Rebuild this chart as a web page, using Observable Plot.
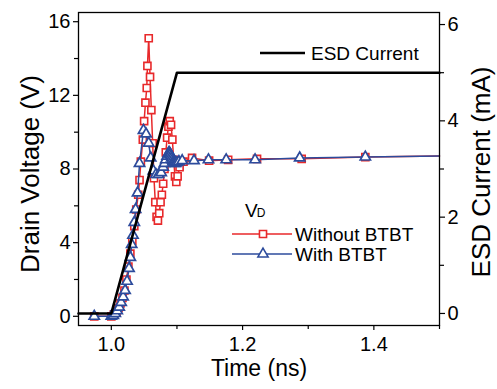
<!DOCTYPE html>
<html><head><meta charset="utf-8">
<script src="https://cdn.jsdelivr.net/npm/d3@7"></script>
<script src="https://cdn.jsdelivr.net/npm/@observablehq/plot@0.6"></script>
<style>
body{margin:0;background:#fff;}
#wrap{position:relative;width:497px;height:389px;font-family:"Liberation Sans",Arial,sans-serif;}
#legend{position:absolute;left:0;top:0;pointer-events:none;}
</style></head><body><div id="wrap"></div>
<script>
// ---- data ----
const redTime = [0.974,1.000,1.004,1.008,1.011,1.014,1.017,1.020,1.023,1.026,1.029,1.032,1.035,1.038,1.041,1.043,1.045,1.048,1.050,1.052,1.054,1.055,1.057,1.059,1.061,1.063,1.065,1.067,1.069,1.071,1.073,1.075,1.077,1.079,1.081,1.083,1.085,1.087,1.089,1.091,1.093,1.095,1.097,1.099,1.101,1.104,1.110,1.123,1.149,1.178,1.222,1.290,1.387,1.500];
const redV    = [0,0,0.1,0.25,0.45,0.7,1.0,1.4,2.0,2.7,3.4,4.1,4.9,5.8,6.6,7.4,8.4,9.6,10.6,11.6,12.4,13.6,15.1,13.0,11.2,9.4,7.5,6.2,5.4,5.2,5.6,6.2,6.6,7.2,8.0,8.9,9.7,10.3,10.6,10.4,9.6,8.5,7.6,7.3,7.6,8.1,8.4,8.6,8.45,8.5,8.55,8.55,8.65,8.7];
const blueTime = [0.974,1.000,1.003,1.006,1.009,1.012,1.015,1.018,1.021,1.024,1.027,1.029,1.031,1.033,1.035,1.037,1.040,1.043,1.049,1.053,1.057,1.060,1.064,1.068,1.072,1.076,1.079,1.081,1.083,1.085,1.087,1.088,1.089,1.090,1.091,1.092,1.093,1.094,1.095,1.096,1.098,1.100,1.103,1.108,1.126,1.148,1.175,1.219,1.287,1.387,1.500];
const blueV    = [0,0,0.05,0.15,0.3,0.5,0.75,1.05,1.4,1.9,2.6,3.2,3.9,4.4,5.1,5.8,6.7,8.3,10.1,9.9,9.4,8.6,7.9,7.7,7.7,7.8,8.1,8.3,8.5,8.7,8.85,8.9,8.85,8.8,8.7,8.6,8.5,8.4,8.35,8.3,8.3,8.35,8.4,8.45,8.45,8.5,8.5,8.5,8.6,8.65,8.7];
const esdTime    = [0.95, 1.0, 1.1, 1.5];
const esdCurrent = [0, 0, 5, 5];
const xMajor = [1.0, 1.2, 1.4];
const xMinor = [1.1, 1.3, 1.5];
const yLeftMajor = [0, 4, 8, 12, 16];
const yLeftMinor = [2, 6, 10, 14];
const yRightMajor = [0, 2, 4, 6];
const yRightMinor = [1, 3, 5];

// ---- scales ----
const vMin = -0.5, vMax = 16.5, iMin = -0.25, iMax = 6.25;
const toV = i => vMin + (i - iMin) * (vMax - vMin) / (iMax - iMin);
const fromV = v => iMin + (v - vMin) * (iMax - iMin) / (vMax - vMin);

const red = redTime.map((t, k) => ({t, v: redV[k]}));
const blue = blueTime.map((t, k) => ({t, v: blueV[k]}));
const esd = esdTime.map((t, k) => ({t, v: toV(esdCurrent[k])}));

const RED = "#e8292b", BLUE = "#2c4b9c";
const FONT = '"Liberation Sans", Arial, sans-serif';

const chart = Plot.plot({
  width: 497, height: 389,
  marginLeft: 78, marginRight: 58, marginTop: 12, marginBottom: 64,
  style: {fontFamily: FONT, fontSize: "20px", color: "#000", background: "#fff", overflow: "visible"},
  x: {domain: [0.95, 1.5]},
  y: {domain: [vMin, vMax]},
  marks: [
    Plot.axisX(xMajor, {tickSize: 5, tickPadding: 6, tickFormat: d => d.toFixed(1), label: null, strokeWidth: 1.2}),
    Plot.axisX(xMinor, {tickSize: 4, tickFormat: () => "", label: null, strokeWidth: 1.2}),
    Plot.axisY(yLeftMajor, {anchor: "left", tickSize: 5, tickPadding: 3, tickFormat: d => String(d), label: null, strokeWidth: 1.2}),
    Plot.axisY(yLeftMinor, {anchor: "left", tickSize: 4, tickFormat: () => "", label: null, strokeWidth: 1.2}),
    Plot.axisY(yRightMajor.map(toV), {anchor: "right", tickSize: 5, tickPadding: 3, tickFormat: v => String(Math.round(fromV(v))), label: null, strokeWidth: 1.2}),
    Plot.axisY(yRightMinor.map(toV), {anchor: "right", tickSize: 4, tickFormat: () => "", label: null, strokeWidth: 1.2}),
    Plot.line(red, {x: "t", y: "v", stroke: RED, strokeWidth: 1.5}),
    Plot.dot(red.filter(d => d.t < 1.5), {x: "t", y: "v", symbol: "square", r: 4, stroke: RED, fill: "#fff", strokeWidth: 1.6}),
    Plot.line(blue, {x: "t", y: "v", stroke: BLUE, strokeWidth: 1.5}),
    Plot.dot(blue.filter(d => d.t < 1.5), {x: "t", y: "v", symbol: "triangle", r: 3.8, stroke: BLUE, fill: "#fff", strokeWidth: 1.7}),
    Plot.line(esd, {x: "t", y: "v", stroke: "#000", strokeWidth: 2.6}),
    Plot.frame({stroke: "#000", strokeWidth: 1.3}),
    Plot.text(["Time (ns)"], {frameAnchor: "bottom", textAnchor: "middle", dy: 50, fontSize: 23, text: d => d}),
    Plot.text(["Drain Voltage (V)"], {frameAnchor: "left", textAnchor: "middle", dx: -48, dy: 5, rotate: -90, fontSize: 26, letterSpacing: "0.4px", text: d => d}),
    Plot.text(["ESD Current (mA)"], {frameAnchor: "right", textAnchor: "middle", dx: 42, dy: 3, rotate: -90, fontSize: 26, letterSpacing: "0.4px", text: d => d})
  ]
});
const wrap = document.getElementById("wrap");
wrap.appendChild(chart);

// ---- legend overlay ----
const svg = d3.select(wrap).append("svg").attr("id", "legend").attr("width", 497).attr("height", 389)
  .style("font-family", FONT);
svg.append("line").attr("x1", 260).attr("x2", 305).attr("y1", 53).attr("y2", 53).attr("stroke", "#000").attr("stroke-width", 2.6);
svg.append("text").attr("x", 311).attr("y", 60).attr("font-size", 19).text("ESD Current");
const vd = svg.append("text").attr("x", 245).attr("y", 217).attr("font-size", 19);
vd.append("tspan").text("V");
vd.append("tspan").attr("font-size", 12).attr("dx", -1).text("D");
const items = [
  {label: "Without BTBT", color: RED, symbol: d3.symbolSquare, size: 50, y: 234},
  {label: "With BTBT", color: BLUE, symbol: d3.symbolTriangle, size: 45, y: 254}
];
for (const it of items) {
  svg.append("line").attr("x1", 232).attr("x2", 292).attr("y1", it.y).attr("y2", it.y).attr("stroke", it.color).attr("stroke-width", 1.5);
  svg.append("path").attr("d", d3.symbol(it.symbol, it.size)()).attr("transform", `translate(263,${it.y})`)
    .attr("fill", "#fff").attr("stroke", it.color).attr("stroke-width", 1.6);
  svg.append("text").attr("x", 295).attr("y", it.y + 6.5).attr("font-size", 19).text(it.label);
}
</script></body></html>
